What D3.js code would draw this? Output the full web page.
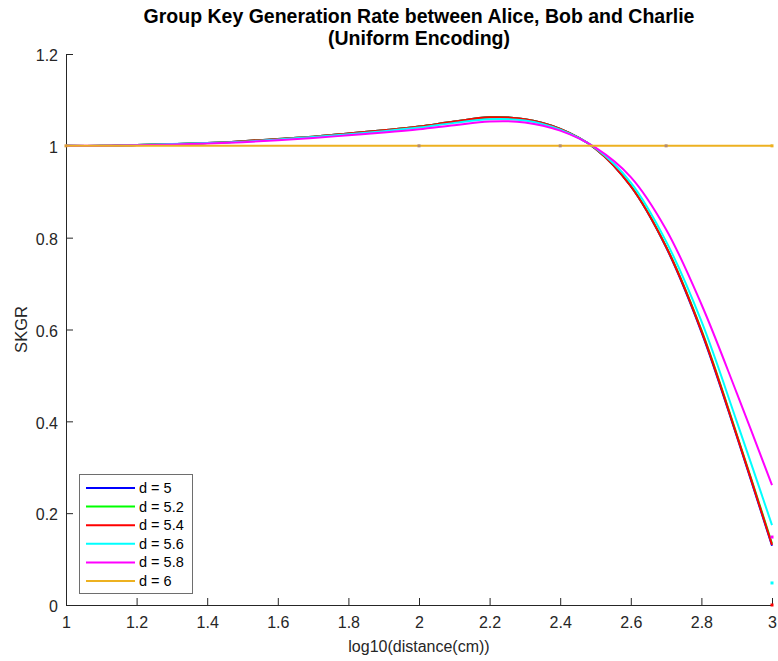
<!DOCTYPE html>
<html>
<head>
<meta charset="utf-8">
<script src="https://cdn.jsdelivr.net/npm/d3@7"></script>
<style>
  html, body { margin: 0; padding: 0; background: #fff; }
  svg { display: block; font-family: "Liberation Sans", Arial, Helvetica, sans-serif; }
</style>
</head>
<body>
<svg id="chart" width="778" height="661"></svg>
<script>
// log10 distance samples shared by every curve
const xs = [1.0, 1.1, 1.2, 1.3, 1.4, 1.5, 1.6, 1.7, 1.8, 1.9, 2.0,
            2.1, 2.2, 2.3, 2.4, 2.5, 2.6, 2.7, 2.8, 2.9, 3.0];

// SKGR per dimension d
const skgr_d5   = [1.000, 1.000, 1.002, 1.004, 1.006, 1.010, 1.015, 1.020, 1.027, 1.034, 1.042,
                   1.053, 1.062, 1.058, 1.037, 0.994, 0.912, 0.779, 0.595, 0.368, 0.129];
const skgr_d5_2 = [1.000, 1.000, 1.002, 1.004, 1.006, 1.010, 1.015, 1.020, 1.027, 1.034, 1.042,
                   1.053, 1.062, 1.058, 1.037, 0.994, 0.913, 0.781, 0.599, 0.372, 0.134];
const skgr_d5_4 = [1.000, 1.000, 1.002, 1.004, 1.006, 1.010, 1.015, 1.020, 1.027, 1.034, 1.042,
                   1.053, 1.062, 1.058, 1.037, 0.994, 0.912, 0.780, 0.597, 0.370, 0.131];
const skgr_d5_6 = [1.000, 1.000, 1.002, 1.004, 1.006, 1.009, 1.014, 1.019, 1.025, 1.032, 1.040,
                   1.050, 1.058, 1.055, 1.035, 0.995, 0.920, 0.792, 0.618, 0.400, 0.174];
const skgr_d5_8 = [1.000, 1.000, 1.001, 1.003, 1.005, 1.008, 1.012, 1.017, 1.023, 1.029, 1.036,
                   1.045, 1.053, 1.051, 1.033, 0.996, 0.932, 0.818, 0.655, 0.462, 0.261];
const skgr_d6   = [1.000, 1.000, 1.000, 1.000, 1.000, 1.000, 1.000, 1.000, 1.000, 1.000, 1.000,
                   1.000, 1.000, 1.000, 1.000, 1.000, 1.000, 1.000, 1.000, 1.000, 1.000];

const seriesNames  = ["d = 5", "d = 5.2", "d = 5.4", "d = 5.6", "d = 5.8", "d = 6"];
const seriesValues = [skgr_d5, skgr_d5_2, skgr_d5_4, skgr_d5_6, skgr_d5_8, skgr_d6];
const seriesColors = ["#0000ff", "#00ff00", "#ff0000", "#00ffff", "#ff00ff", "#edb120"];

// isolated sample markers
const markerX      = [1.0, 2.0, 2.4, 2.7, 3.0, 3.0, 3.0, 3.0];
const markerY      = [1.0, 1.0, 1.0, 1.0, 1.0, 0.148, 0.048, 0.0];
const markerColors = ["#d99a3a", "#b48c70", "#b48c70", "#b48c70", "#edb120", "#ff00ff", "#00ffff", "#ff0000"];

const xTicks = [1, 1.2, 1.4, 1.6, 1.8, 2, 2.2, 2.4, 2.6, 2.8, 3];
const yTicks = [0, 0.2, 0.4, 0.6, 0.8, 1, 1.2];

const titleLines = ["Group Key Generation Rate between Alice, Bob and Charlie", "(Uniform Encoding)"];
const xLabel = "log10(distance(cm))";
const yLabel = "SKGR";

const svg = d3.select("#chart");
const plotLeft = 66, plotRight = 772, plotTop = 54, plotBottom = 605;

const x = d3.scaleLinear().domain([1, 3]).range([plotLeft, plotRight]);
const y = d3.scaleLinear().domain([0, 1.2]).range([plotBottom, plotTop]);

const axisColor = "#262626";

// axes with inward ticks
const gx = svg.append("g")
  .attr("transform", `translate(0,${plotBottom})`)
  .call(d3.axisBottom(x).tickValues(xTicks).tickFormat(d3.format("")).tickSizeInner(-7).tickSizeOuter(0).tickPadding(12));
const gy = svg.append("g")
  .attr("transform", `translate(${plotLeft},0)`)
  .call(d3.axisLeft(y).tickValues(yTicks).tickFormat(d3.format("")).tickSizeInner(-7).tickSizeOuter(0).tickPadding(8));

[gx, gy].forEach(g => {
  g.select(".domain").attr("stroke", axisColor).attr("stroke-width", 1);
  g.selectAll(".tick line").attr("stroke", axisColor).attr("stroke-width", 1);
  g.selectAll(".tick text").attr("fill", "#262626").style("font-size", "16px")
    .style("font-family", "'Liberation Sans', Arial, sans-serif");
});
gy.selectAll(".tick text").attr("dy", "0.42em");

// curves
const line = d3.line()
  .x((d, i) => x(xs[i]))
  .y(d => y(d))
  .curve(d3.curveCatmullRom.alpha(0.5));

const plot = svg.append("g");
seriesValues.forEach((vals, k) => {
  plot.append("path")
    .datum(vals)
    .attr("fill", "none")
    .attr("stroke", seriesColors[k])
    .attr("stroke-width", 2)
    .attr("d", line);
});

// markers
plot.selectAll("rect.marker")
  .data(markerX.map((mx, i) => ({ mx, my: markerY[i], c: markerColors[i] })))
  .join("rect")
  .attr("class", "marker")
  .attr("x", d => x(d.mx) - 1.5)
  .attr("y", d => y(d.my) - 1.5)
  .attr("width", 3)
  .attr("height", 3)
  .attr("fill", d => d.c);

// title
const title = svg.append("text")
  .attr("text-anchor", "middle")
  .attr("fill", "#000")
  .style("font-weight", "bold")
  .style("font-size", "19.5px");
titleLines.forEach((t, i) => {
  title.append("tspan").attr("x", (plotLeft + plotRight) / 2).attr("y", 23 + i * 22).text(t);
});

// axis labels
svg.append("text")
  .attr("x", (plotLeft + plotRight) / 2)
  .attr("y", 652)
  .attr("text-anchor", "middle")
  .attr("fill", "#262626")
  .style("font-size", "16px")
  .text(xLabel);

svg.append("text")
  .attr("transform", `translate(27,${(plotTop + plotBottom) / 2}) rotate(-90)`)
  .attr("text-anchor", "middle")
  .attr("fill", "#262626")
  .style("font-size", "16.5px")
  .text(yLabel);

// legend
const lg = svg.append("g");
lg.append("rect")
  .attr("x", 79.5).attr("y", 474.5)
  .attr("width", 113).attr("height", 119)
  .attr("fill", "#fff")
  .attr("stroke", "#6e6e6e")
  .attr("stroke-width", 1);
seriesNames.forEach((name, k) => {
  const cy = 488 + k * 18.6;
  lg.append("line")
    .attr("x1", 86).attr("x2", 135)
    .attr("y1", cy).attr("y2", cy)
    .attr("stroke", seriesColors[k])
    .attr("stroke-width", 2);
  lg.append("text")
    .attr("x", 139).attr("y", cy)
    .attr("dy", "0.35em")
    .attr("fill", "#000")
    .style("font-size", "14.5px")
    .text(name);
});
</script>
</body>
</html>
